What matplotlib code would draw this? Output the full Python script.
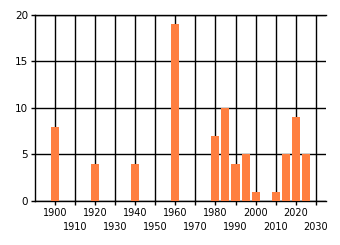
import matplotlib
matplotlib.use("Agg")
import matplotlib.pyplot as plt

# data
years = [1900, 1920, 1940, 1960, 1980, 1985, 1990, 1995, 2000, 2010, 2015, 2020, 2025]
counts = [8, 4, 4, 19, 7, 10, 4, 5, 1, 1, 5, 9, 5]
upper_ticks = [1900, 1920, 1940, 1960, 1980, 2000, 2020]
lower_ticks = [1910, 1930, 1950, 1970, 1990, 2010, 2030]
y_ticks = [0, 5, 10, 15, 20]

fig = plt.figure(figsize=(3.4, 2.45), dpi=100)
ax = fig.add_axes([0.103, 0.18, 0.855, 0.759])

ax.bar(years, counts, width=4, color="#FF7F40", zorder=3)

ax.set_xlim(1890, 2035)
ax.set_ylim(0, 20)

# staggered x labels: every other decade sits on a second row (minor ticks)
ax.set_xticks(upper_ticks)
ax.set_xticklabels([str(d) for d in upper_ticks], fontsize=7)
ax.set_xticks(lower_ticks, minor=True)
ax.set_xticklabels([str(d) for d in lower_ticks], minor=True, fontsize=7)
ax.set_yticks(y_ticks)
ax.set_yticklabels([str(v) for v in y_ticks], fontsize=7.5)

ax.grid(True, which="both", axis="x", color="black", linewidth=1, zorder=1)
ax.grid(True, which="major", axis="y", color="black", linewidth=1, zorder=1)
ax.tick_params(axis="both", which="major", length=3, width=1, color="black", pad=2)
ax.tick_params(axis="x", which="minor", length=3, width=1, color="black", pad=12)

ax.spines["right"].set_visible(False)
for side in ["left", "top", "bottom"]:
    ax.spines[side].set_linewidth(1)

fig.savefig("out.png", dpi=100)
